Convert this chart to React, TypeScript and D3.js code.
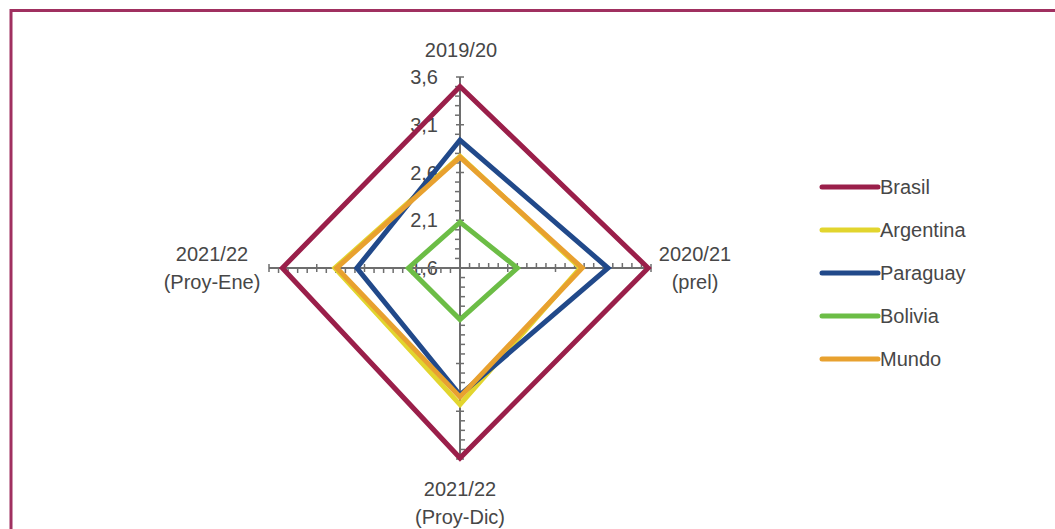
import React from "react";
import * as d3 from "d3";

const axesLabels: string[][] = [
  ["2019/20"],
  ["2020/21", "(prel)"],
  ["2021/22", "(Proy-Dic)"],
  ["2021/22", "(Proy-Ene)"],
];
const tickValues = [1.6, 2.1, 2.6, 3.1, 3.6];
const tickLabels = ["1,6", "2,1", "2,6", "3,1", "3,6"];

const seriesNames = ["Brasil", "Argentina", "Paraguay", "Bolivia", "Mundo"];
const seriesColors = ["#9a1f4a", "#e2d52e", "#21498a", "#6cbd46", "#e8a12f"];
const brasil = [3.5, 3.57, 3.59, 3.46];
const argentina = [2.77, 2.86, 3.03, 2.91];
const paraguay = [2.94, 3.15, 2.93, 2.68];
const bolivia = [2.08, 2.2, 2.14, 2.14];
const mundo = [2.76, 2.88, 2.95, 2.89];
const seriesValues = [brasil, argentina, paraguay, bolivia, mundo];

const W = 1055;
const H = 529;
const cx = 460;
const cy = 268;
const R = 191;

export default function App() {
  const r = d3.scaleLinear().domain([1.6, 3.6]).range([0, R]);
  const angle = d3
    .scaleBand<number>()
    .domain(d3.range(axesLabels.length))
    .range([0, 2 * Math.PI]);
  const dir = (i: number) => {
    const a = angle(i)!;
    return [Math.sin(a), -Math.cos(a)];
  };
  const pt = (i: number, v: number): [number, number] => {
    const [dx, dy] = dir(i);
    return [cx + dx * r(v), cy + dy * r(v)];
  };
  const line = d3.line<[number, number]>().curve(d3.curveLinearClosed);
  const minorTicks = d3.range(16, 37).map((d) => d / 10);
  const font = "'Liberation Sans', Arial, sans-serif";
  const textColor = "#474747";

  const labelPos = [
    { x: 461, y: 50 },
    { x: 695, y: 254 },
    { x: 460, y: 489 },
    { x: 212, y: 254 },
  ];

  return (
    <svg
      width={W}
      height={H}
      style={{ position: "absolute", left: 0, top: 0, background: "#fff" }}
      fontFamily={font}
    >
      <rect x={0} y={0} width={W} height={H} fill="#fff" />
      <rect x={11} y={10.5} width={1200} height={700} fill="none" stroke="#a03060" strokeWidth={3} />

      {/* tick labels */}
      {tickValues.map((v, k) => (
        <text
          key={"tl" + k}
          x={cx - 22}
          y={cy - r(v)}
          textAnchor="end"
          dominantBaseline="central"
          fontSize={20}
          fill={textColor}
        >
          {tickLabels[k]}
        </text>
      ))}

      {/* axes */}
      {axesLabels.map((_, i) => {
        const [dx, dy] = dir(i);
        const [px, py] = [-dy, dx];
        const end = pt(i, 3.6);
        return (
          <g key={"ax" + i} stroke="#6e6e6e">
            <line x1={cx} y1={cy} x2={end[0]} y2={end[1]} strokeWidth={2} />
            {minorTicks.map((t, k) => {
              const p = pt(i, t);
              const major = Math.abs((t * 10 - 16) % 5) < 1e-6;
              const a = major ? 4 : 5;
              const b = major ? 4 : -0.5;
              return (
                <line
                  key={k}
                  x1={p[0] - px * a}
                  y1={p[1] - py * a}
                  x2={p[0] + px * b}
                  y2={p[1] + py * b}
                  strokeWidth={1.5}
                />
              );
            })}
          </g>
        );
      })}

      {/* series */}
      {seriesValues.map((vals, s) => (
        <path
          key={"s" + s}
          d={line(vals.map((v, i) => pt(i, v)))!}
          fill="none"
          stroke={seriesColors[s]}
          strokeWidth={5}
          strokeLinejoin="miter"
        />
      ))}

      {/* axis labels */}
      {axesLabels.map((lines, i) => (
        <text
          key={"al" + i}
          x={labelPos[i].x}
          y={labelPos[i].y}
          textAnchor="middle"
          dominantBaseline="central"
          fontSize={20}
          fill={textColor}
        >
          {lines.map((l, k) => (
            <tspan key={k} x={labelPos[i].x} dy={k === 0 ? 0 : 28}>
              {l}
            </tspan>
          ))}
        </text>
      ))}

      {/* legend */}
      {seriesNames.map((n, s) => {
        const y = 187 + s * 43;
        return (
          <g key={"lg" + s}>
            <line x1={822} x2={878} y1={y} y2={y} stroke={seriesColors[s]} strokeWidth={5} strokeLinecap="round" />
            <text x={880} y={y} dominantBaseline="central" fontSize={20} fill={textColor}>
              {n}
            </text>
          </g>
        );
      })}
    </svg>
  );
}
